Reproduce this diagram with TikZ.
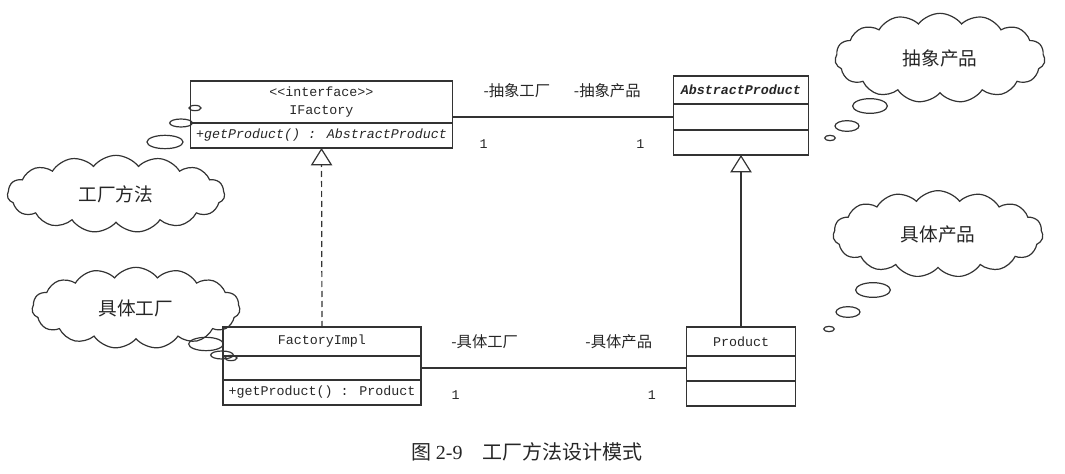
\documentclass[tikz,border=0pt]{standalone}
\usepackage{fontspec}
\setmainfont{Liberation Serif}
\newfontfamily\cjk{Noto Sans CJK SC}
\newfontfamily\umlfont{Liberation Mono}
\usepackage{tikz}
\usetikzlibrary{positioning}
\usetikzlibrary{arrows.meta}
\usetikzlibrary{shapes.geometric,shapes.symbols}

\begin{document}
\begin{tikzpicture}[
  x=0.75pt, y=-0.75pt,
  line width=0.9pt, draw=black!80, text=black!85,
  umlpart/.style={draw, rectangle, inner sep=0pt, outer sep=0pt, align=center,
    font=\umlfont\fontsize{10}{14}\selectfont},
  role/.style={font=\cjk\fontsize{11.5}{13}\selectfont},
  mult/.style={font=\umlfont\fontsize{10}{12}\selectfont},
  thought/.style={draw, cloud, cloud puffs=15, cloud puff arc=105, cloud ignores aspect, inner sep=0pt,
    font=\cjk\fontsize{14}{16}\selectfont},
  bubble/.style={draw, ellipse, inner sep=0pt},
  inherit/.style={-{Triangle[open, length=13pt, width=16pt]}},
]
\useasboundingbox (0,0) rectangle (1065,474);

\node (ifName) [umlpart, minimum width=197pt, minimum height=31.5pt, anchor=north] at (321.5,81)
  {<<interface>>\\IFactory};
\node (ifOps) [umlpart, minimum width=197pt, minimum height=18.75pt, below=0pt of ifName]
  {\itshape +getProduct() : AbstractProduct};

\node (apName) [umlpart, minimum width=101.25pt, minimum height=21pt, anchor=north] at (741,76)
  {\bfseries\itshape AbstractProduct};
\node (apAttr) [umlpart, minimum width=101.25pt, minimum height=19.5pt, below=0pt of apName] {};
\node (apOps) [umlpart, minimum width=101.25pt, minimum height=18.75pt, below=0pt of apAttr] {};

\node (fiName) [umlpart, minimum width=148.5pt, minimum height=21.75pt, anchor=north] at (322,327)
  {FactoryImpl};
\node (fiAttr) [umlpart, minimum width=148.5pt, minimum height=18pt, below=0pt of fiName] {};
\node (fiOps) [umlpart, minimum width=148.5pt, minimum height=18.75pt, below=0pt of fiAttr]
  {+getProduct() : Product};

\node (prodName) [umlpart, minimum width=81.75pt, minimum height=21.75pt, anchor=north] at (741,327)
  {Product};
\node (prodAttr) [umlpart, minimum width=81.75pt, minimum height=18.75pt, below=0pt of prodName] {};
\node (prodOps) [umlpart, minimum width=81.75pt, minimum height=18.75pt, below=0pt of prodAttr] {};

\draw[inherit, dash pattern=on 4.5pt off 3pt] (fiName.north) -- (ifOps.south);
\draw[inherit] (prodName.north) -- (apOps.south);

\draw (apAttr.west -| ifName.east) --
  node[role, pos=0.29, yshift=20pt] {-抽象工厂}
  node[role, pos=0.70, yshift=20pt] {-抽象产品}
  node[mult, pos=0.14, yshift=-20pt] {1}
  node[mult, pos=0.85, yshift=-20pt] {1}
  (apAttr.west);
\draw (fiAttr.east) --
  node[role, pos=0.24, yshift=20pt] {-具体工厂}
  node[role, pos=0.745, yshift=20pt] {-具体产品}
  node[mult, pos=0.13, yshift=-20pt] {1}
  node[mult, pos=0.87, yshift=-20pt] {1}
  (fiAttr.east -| prodAttr.west);

\node (cloudMethod) [thought, minimum width=163pt, minimum height=58pt] at (116,194) {工厂方法};
\node (cloudAbsProd) [thought, minimum width=157.5pt, minimum height=67pt] at (940,58) {抽象产品};
\node (cloudConProd) [thought, minimum width=157.5pt, minimum height=65pt] at (938,234) {具体产品};
\node (cloudConFac) [thought, minimum width=156pt, minimum height=61pt] at (136,308) {具体工厂};

\node (bubMethodA) [bubble, minimum width=27pt, minimum height=10pt] at (165,142) {};
\node (bubMethodB) [bubble, minimum width=17pt, minimum height=6pt] at (181,123) {};
\node (bubMethodC) [bubble, minimum width=9pt, minimum height=4pt] at (195,108) {};

\node (bubConFacA) [bubble, minimum width=26pt, minimum height=10pt] at (206,344) {};
\node (bubConFacB) [bubble, minimum width=17pt, minimum height=6pt] at (222,355) {};
\node (bubConFacC) [bubble, minimum width=9pt, minimum height=4pt] at (231,358) {};

\node (bubAbsProdA) [bubble, minimum width=26pt, minimum height=11pt] at (870,106) {};
\node (bubAbsProdB) [bubble, minimum width=18pt, minimum height=8pt] at (847,126) {};
\node (bubAbsProdC) [bubble, minimum width=8pt, minimum height=4pt] at (830,138) {};

\node (bubConProdA) [bubble, minimum width=26pt, minimum height=11pt] at (873,290) {};
\node (bubConProdB) [bubble, minimum width=18pt, minimum height=8pt] at (848,312) {};
\node (bubConProdC) [bubble, minimum width=8pt, minimum height=4pt] at (829,329) {};

\node (caption) [font=\cjk\fontsize{15}{18}\selectfont] at (527,452)
  {图 {\rmfamily 2-9}\quad 工厂方法设计模式};
\end{tikzpicture}
\end{document}
